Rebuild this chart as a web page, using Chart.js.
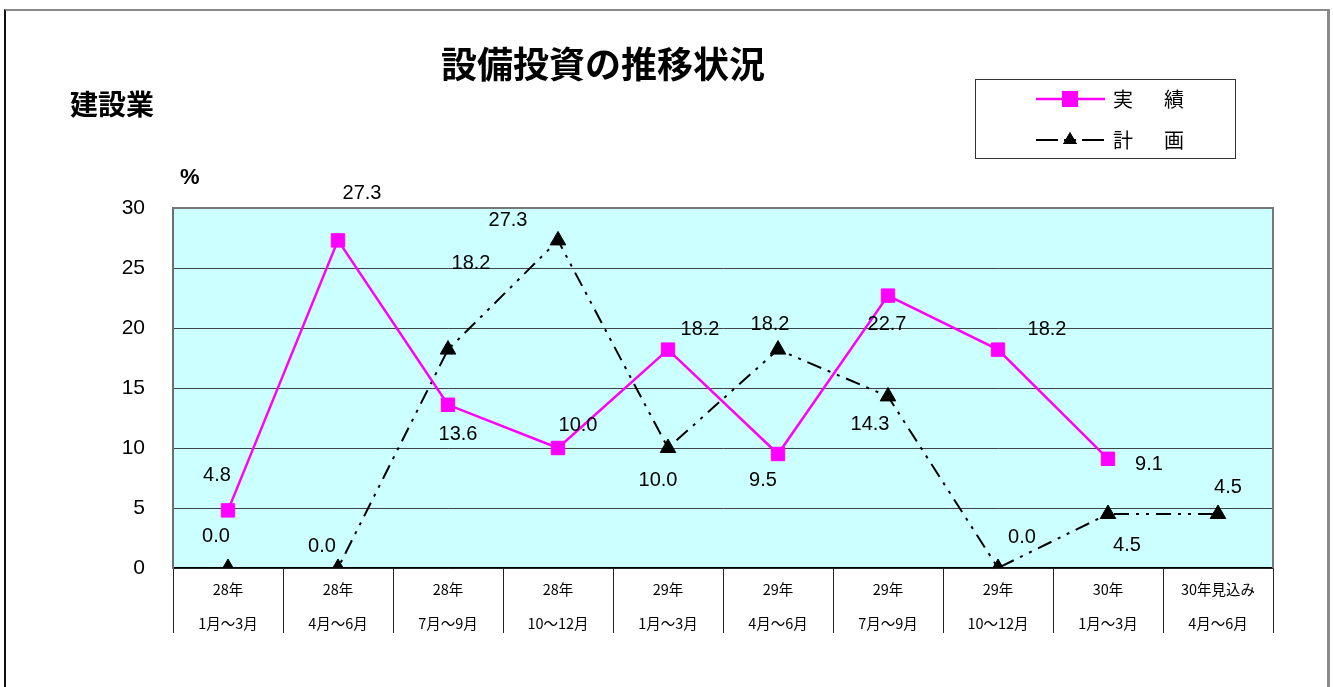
<!DOCTYPE html>
<html lang="ja">
<head>
<meta charset="utf-8">
<script src="https://cdn.jsdelivr.net/npm/chart.js@4/dist/chart.umd.min.js"></script>
<style>
  html, body { margin: 0; padding: 0; background: #fff; }
  body { width: 1333px; height: 687px; position: relative; overflow: hidden; font-family: 'Noto Sans CJK JP', sans-serif; }
  #frame { position: absolute; left: 4px; top: 9px; width: 1321px; height: 700px; border-top: 2px solid #8a8a8a; border-left: 2px solid #111; border-right: 3px solid #8a8a8a; }
  #wrap { position: absolute; left: 0; top: 0; width: 1333px; height: 687px; }
  .txt { position: absolute; color: #000; font-weight: bold; white-space: nowrap; line-height: 1; }
  #title { left: 0; width: 1206px; top: 44px; text-align: center; font-size: 36px; }
  #sector { left: 70px; top: 89px; font-size: 28px; }
  #unit { left: 180px; top: 166px; font-size: 22px; font-family: 'Liberation Sans', 'Noto Sans CJK JP', sans-serif; }
</style>
</head>
<body>
<div id="frame"></div>
<div id="wrap"><canvas id="chart" width="1333" height="687"></canvas></div>
<div class="txt" id="title">設備投資の推移状況</div>
<div class="txt" id="sector">建設業</div>
<div class="txt" id="unit">%</div>
<script>
const yearLabels = ['28年', '28年', '28年', '28年', '29年', '29年', '29年', '29年', '30年', '30年見込み'];
const monthLabels = ['1月～3月', '4月～6月', '7月～9月', '10～12月', '1月～3月', '4月～6月', '7月～9月', '10～12月', '1月～3月', '4月～6月'];
const actualValues = [4.8, 27.3, 13.6, 10.0, 18.2, 9.5, 22.7, 18.2, 9.1, null];
const planValues = [0.0, 0.0, 18.2, 27.3, 10.0, 18.2, 14.3, 0.0, 4.5, 4.5];
const yTicks = [0, 5, 10, 15, 20, 25, 30];

// label nudges (px) relative to each point, as placed in the original sheet
const actualLabelShift = [[-11, -35], [24, -47], [10, 30], [20, -23], [32, -20], [-15, 26], [-1, 29], [49, -20], [41, 6], null];
const planLabelShift = [[-12, -32], [-16, -22], [23, -86], [-50, -20], [-10, 32], [-8, -25], [-18, 28], [24, -31], [19, 31], [10, -27]];

const NUM_FONT = "'Liberation Sans', 'Noto Sans CJK JP', sans-serif";
const JP_FONT = "'Noto Sans CJK JP', sans-serif";
const PLAN_DASH = [15, 7, 3, 7, 3, 7];

const plotBackground = {
  id: 'plotBackground',
  beforeDraw(chart) {
    const { ctx, chartArea: a } = chart;
    ctx.save();
    ctx.fillStyle = '#ccffff';
    ctx.fillRect(a.left, a.top, a.right - a.left, a.bottom - a.top);
    ctx.restore();
  },
  afterDraw(chart) {
    const { ctx, chartArea: a } = chart;
    ctx.save();
    ctx.strokeStyle = '#777';
    ctx.lineWidth = 2;
    ctx.beginPath();
    ctx.moveTo(a.left, a.top);
    ctx.lineTo(a.right, a.top);
    ctx.lineTo(a.right, a.bottom);
    ctx.stroke();
    ctx.restore();
  },
};

const pointLabels = {
  id: 'pointLabels',
  afterDatasetsDraw(chart) {
    const { ctx } = chart;
    const shifts = [actualLabelShift, planLabelShift];
    ctx.save();
    ctx.font = `20px ${NUM_FONT}`;
    ctx.fillStyle = '#000';
    ctx.textAlign = 'center';
    ctx.textBaseline = 'middle';
    chart.data.datasets.forEach((ds, di) => {
      chart.getDatasetMeta(di).data.forEach((pt, i) => {
        const v = ds.data[i];
        if (v === null || v === undefined) return;
        const [dx, dy] = shifts[di][i];
        ctx.fillText(v.toFixed(1), pt.x + dx, pt.y + dy);
      });
    });
    ctx.restore();
  },
};

const boxLegend = {
  id: 'boxLegend',
  afterDraw(chart) {
    const { ctx } = chart;
    const box = { x: 975.5, y: 79.5, w: 260, h: 79 };
    ctx.save();
    ctx.strokeStyle = '#333';
    ctx.lineWidth = 1;
    ctx.strokeRect(box.x, box.y, box.w, box.h);

    const rows = [
      { y: 99, text: '実績', ds: chart.data.datasets[0] },
      { y: 140, text: '計画', ds: chart.data.datasets[1] },
    ];
    const x0 = 1036, x1 = 1105, mx = 1070;
    rows.forEach((r, i) => {
      ctx.strokeStyle = r.ds.borderColor;
      ctx.lineWidth = r.ds.borderWidth;
      if (i === 1) ctx.setLineDash([22, 6, 3, 6, 3, 6]);
      else ctx.setLineDash([]);
      ctx.beginPath();
      ctx.moveTo(x0, r.y);
      ctx.lineTo(x1, r.y);
      ctx.stroke();
      ctx.setLineDash([]);
      if (i === 1) {
        ctx.fillStyle = '#fff';
        ctx.fillRect(x0 + 23, r.y - 3, 5, 6);
      }
      Chart.helpers.drawPoint(ctx, {
        pointStyle: r.ds.pointStyle,
        radius: i === 0 ? r.ds.pointRadius : 6,
        borderWidth: 1,
        rotation: 0,
      }, mx, r.y);
      ctx.fillStyle = r.ds.pointBackgroundColor;
      ctx.strokeStyle = r.ds.pointBorderColor;
      ctx.fill();
      ctx.stroke();

      ctx.fillStyle = '#000';
      ctx.font = `20px ${JP_FONT}`;
      ctx.textAlign = 'left';
      ctx.textBaseline = 'middle';
      ctx.letterSpacing = '31px';
      ctx.fillText(r.text, 1113, r.y);
      ctx.letterSpacing = '0px';
    });
    ctx.restore();
  },
};

new Chart(document.getElementById('chart'), {
  type: 'line',
  data: {
    labels: yearLabels.map((y, i) => [y, monthLabels[i]]),
    datasets: [
      {
        label: '実績',
        data: actualValues,
        borderColor: '#ff00ff',
        borderWidth: 2.5,
        pointStyle: 'rect',
        pointRadius: 9.5,
        pointBackgroundColor: '#ff00ff',
        pointBorderColor: '#ff00ff',
        pointBorderWidth: 1,
        tension: 0,
        spanGaps: false,
      },
      {
        label: '計画',
        data: planValues,
        borderColor: '#000',
        borderWidth: 2,
        borderDash: PLAN_DASH,
        pointStyle: 'triangle',
        pointRadius: 9,
        pointBackgroundColor: '#000',
        pointBorderColor: '#000',
        pointBorderWidth: 1,
        tension: 0,
      },
    ],
  },
  options: {
    responsive: false,
    animation: false,
    layout: { padding: { top: 208, right: 60, bottom: 0, left: 0 } },
    plugins: {
      legend: { display: false },
      title: { display: false },
      tooltip: { enabled: false },
    },
    scales: {
      x: {
        offset: true,
        afterFit: (scale) => { scale.height = 119; },
        grid: {
          offset: true,
          drawOnChartArea: false,
          drawTicks: true,
          tickLength: 65,
          color: '#222',
          lineWidth: 1,
        },
        border: { display: true, color: '#000', width: 1.5 },
        ticks: {
          color: '#000',
          padding: -61,
          maxRotation: 0,
          autoSkip: false,
          font: { family: JP_FONT, size: 14.5, lineHeight: 34 / 14.5 },
        },
      },
      y: {
        min: 0,
        max: 30,
        afterFit: (scale) => { scale.width = 173; },
        afterBuildTicks: (scale) => { scale.ticks = yTicks.map((v) => ({ value: v })); },
        grid: { color: '#3c4646', lineWidth: 1, drawTicks: false },
        border: { display: true, color: '#6e6e6e', width: 2 },
        ticks: {
          color: '#000',
          padding: 28,
          font: { family: NUM_FONT, size: 21 },
        },
      },
    },
  },
  plugins: [plotBackground, pointLabels, boxLegend],
});
</script>
</body>
</html>
